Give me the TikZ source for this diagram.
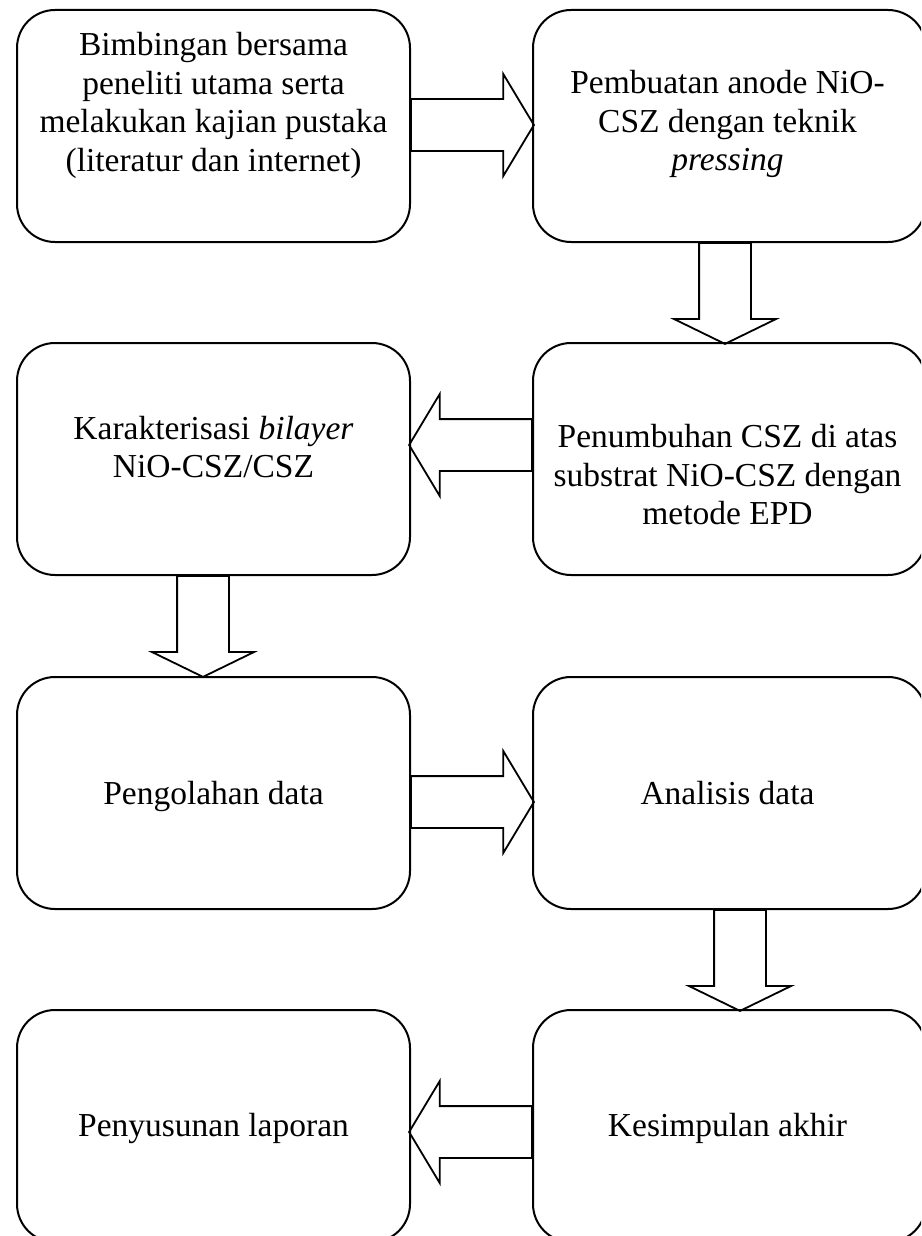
\documentclass[tikz,border=0pt]{standalone}
\usepackage{fontspec}
\setmainfont{Liberation Serif}
\usetikzlibrary{shapes.arrows}
\usetikzlibrary{calc}

\begin{document}
\begin{tikzpicture}
        [x=1pt, y=-1pt,
        box/.style = {draw=black, rectangle, rounded corners=38pt, line width=2pt, outer sep=0pt, minimum width=393pt, minimum height=232pt},
        words/.style = {align=center, inner sep=0pt, font=\fontsize{33.5}{38.5}\selectfont},
        fat/.style = {draw=black, single arrow, anchor=tail, line width=1.8pt, inner xsep=0pt, inner ysep=25pt, single arrow head extend=25pt, minimum width=100pt, single arrow tip angle=118, minimum height=123pt},
        fatdown/.style = {fat, rotate=-90, single arrow tip angle=128, minimum height=101pt}]
        \useasboundingbox (0,0) rectangle (921,1236);
        \clip (0,0) rectangle (921,1236);

        % boxes, left column then right column
        \node[box] (b1) at (213.5,126) {};
        \node[box] (b2) at (729.5,126) {};
        \node[box] (b3) at (729.5,459) {};
        \node[box] (b4) at (213.5,459) {};
        \node[box] (b5) at (213.5,793) {};
        \node[box] (b6) at (729.5,793) {};
        \node[box] (b7) at (729.5,1126) {};
        \node[box] (b8) at (213.5,1126) {};

        \node[words] (t1) at ($(b1.center)+(0,-20.5)$) {Bimbingan bersama\\peneliti utama serta\\melakukan kajian pustaka\\(literatur dan internet)};
        \node[words] (t2) at ($(b2.center)+(-2,-2)$) {Pembuatan anode NiO-\\CSZ dengan teknik\\\textit{pressing}};
        \node[words] (t3) at ($(b3.center)+(-2,16)$) {Penumbuhan CSZ di atas\\substrat NiO-CSZ dengan\\metode EPD};
        \node[words] (t4) at ($(b4.center)+(0,-12)$) {Karakterisasi \textit{bilayer}\\NiO-CSZ/CSZ};
        \node[words] (t5) at ($(b5.center)+(0,3)$) {Pengolahan data};
        \node[words] (t6) at ($(b6.center)+(-2,0)$) {Analisis data};
        \node[words] (t7) at ($(b7.center)+(-2,2)$) {Kesimpulan akhir};
        \node[words] (t8) at ($(b8.center)+(0,2)$) {Penyusunan laporan};

        % block arrows between the boxes
        \node[fat] (a12) at ($(b1.east)+(0,-1)$) {};
        \node[fatdown] (a23) at ($(b2.south)+(-4.5,0)$) {};
        \node[fat, rotate=180] (a34) at ($(b3.west)+(0,-14)$) {};
        \node[fatdown] (a45) at ($(b4.south)+(-10.5,0)$) {};
        \node[fat] (a56) at ($(b5.east)+(0,9)$) {};
        \node[fatdown] (a67) at ($(b6.south)+(10.5,0)$) {};
        \node[fat, rotate=180] (a78) at ($(b7.west)+(0,6)$) {};

\end{tikzpicture}
\end{document}
